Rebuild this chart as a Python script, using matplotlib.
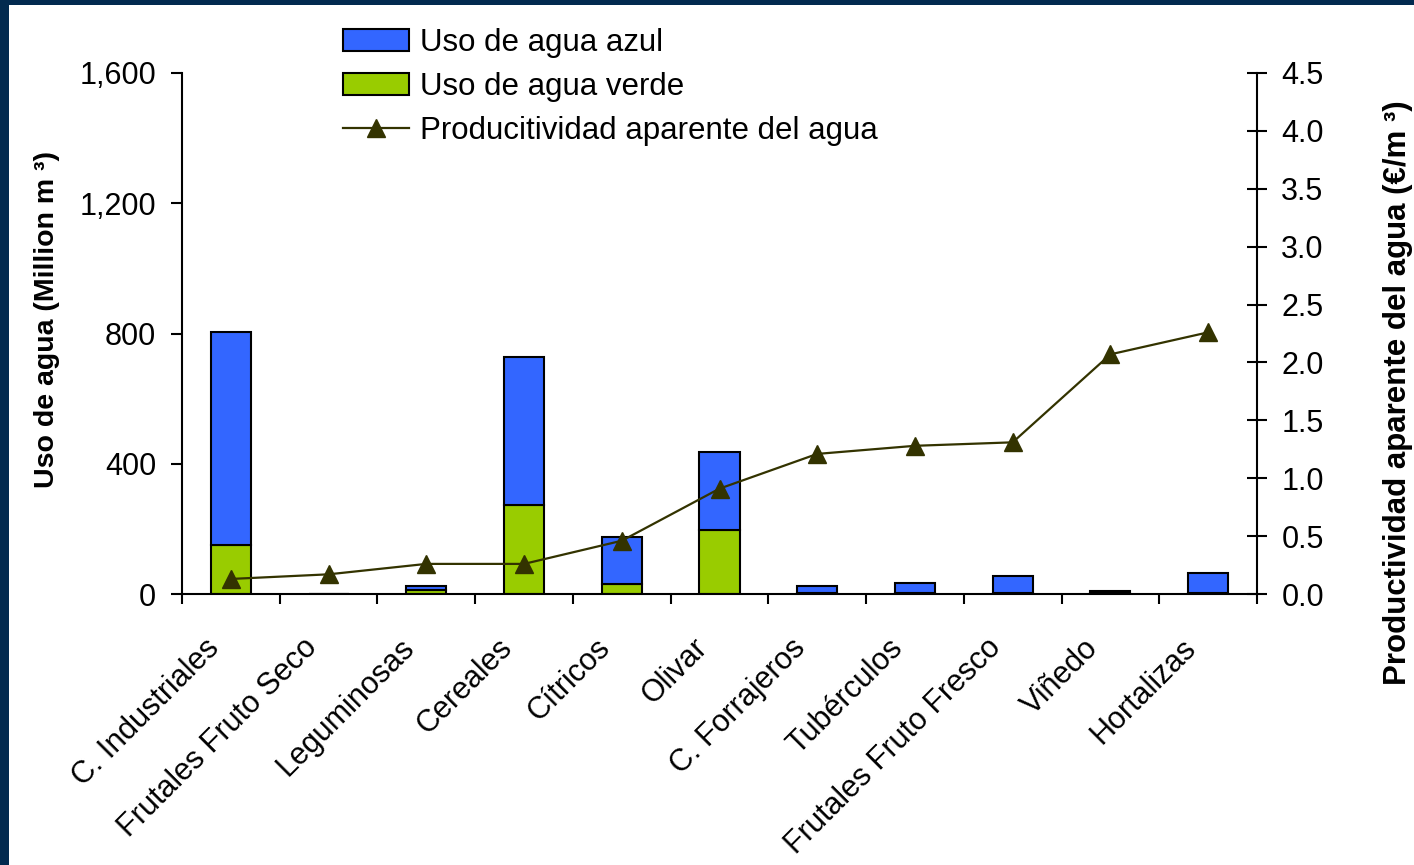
import matplotlib
matplotlib.use("Agg")
import matplotlib.pyplot as plt
from matplotlib.patches import Rectangle
from matplotlib.ticker import FuncFormatter, FixedLocator
from matplotlib.transforms import ScaledTranslation
import numpy as np

plt.rcParams['font.family'] = ['Liberation Sans', 'DejaVu Sans']

cultivos = ["C. Industriales", "Frutales Fruto Seco", "Leguminosas", "Cereales",
            "Cítricos", "Olivar", "C. Forrajeros", "Tubérculos",
            "Frutales Fruto Fresco", "Viñedo", "Hortalizas"]
agua_verde = [152, 0, 12, 272, 31, 197, 4, 2, 4, 3, 4]
agua_azul = [652, 0, 13, 456, 143, 239, 21, 31, 52, 5, 59]
productividad = [0.13, 0.17, 0.26, 0.26, 0.46, 0.91, 1.21, 1.28, 1.31, 2.07, 2.26]

AZUL = "#3366FF"
VERDE = "#99CC00"
LINEA = "#333300"
MARCO = "#022a4f"

fig = plt.figure(figsize=(14.14, 8.65), dpi=100)
fig.patch.set_facecolor("white")

# dark frame on the left and top edges
fig.patches.append(Rectangle((0, 0), 9 / 1414, 1, transform=fig.transFigure,
                             facecolor=MARCO, edgecolor="none", zorder=0))
fig.patches.append(Rectangle((0, 1 - 5 / 865), 1, 5 / 865, transform=fig.transFigure,
                             facecolor=MARCO, edgecolor="none", zorder=0))

ax = fig.add_axes([182 / 1414, 1 - 594 / 865, (1257 - 182) / 1414, (594 - 73) / 865])
x = np.arange(len(cultivos))
w = 0.41
b_verde = ax.bar(x, agua_verde, w, color=VERDE, edgecolor="black", linewidth=1.5,
                 label="Uso de agua verde", zorder=2)
b_azul = ax.bar(x, agua_azul, w, bottom=agua_verde, color=AZUL, edgecolor="black",
                linewidth=1.5, label="Uso de agua azul", zorder=2)

ax.set_xlim(-0.5, len(cultivos) - 0.5)
ax.set_ylim(0, 1600)
ax.set_yticks([0, 400, 800, 1200, 1600])
ax.yaxis.set_major_formatter(FuncFormatter(lambda v, p: f"{int(v):,}"))
ax.tick_params(axis="y", direction="out", length=8, width=1.5, pad=10.5, labelsize=22)

ax.set_xticks(x)
ax.set_xticklabels(cultivos, rotation=45, ha="right", va="top",
                   rotation_mode="anchor", fontsize=22)
ax.xaxis.set_minor_locator(FixedLocator(np.arange(-0.5, len(cultivos), 1.0)))
ax.tick_params(axis="x", which="major", length=0, pad=28)
ax.tick_params(axis="x", which="minor", direction="out", length=7.5, width=1.5)
shift = ScaledTranslation(-27 / 100, 0, fig.dpi_scale_trans)
for lab in ax.get_xticklabels():
    lab.set_transform(lab.get_transform() + shift)

for side in ("top", "right"):
    ax.spines[side].set_visible(False)
for side in ("left", "bottom"):
    ax.spines[side].set_linewidth(1.5)

ax2 = ax.twinx()
linea, = ax2.plot(x, productividad, color=LINEA, linewidth=1.6, marker="^",
                  markersize=13, markerfacecolor=LINEA, markeredgecolor=LINEA,
                  label="Producitividad aparente del agua", zorder=3)
ax2.set_ylim(0, 4.5)
ax2.set_yticks(np.arange(0, 4.51, 0.5))
ax2.yaxis.set_major_formatter(FuncFormatter(lambda v, p: f"{v:.1f}"))
ax2.tick_params(axis="y", direction="inout", length=14, width=1.5, pad=10.5, labelsize=22)
for side in ("top", "left", "bottom"):
    ax2.spines[side].set_visible(False)
ax2.spines["right"].set_linewidth(1.5)

fig.text(47 / 1414, 1 - 320 / 865, "Uso de agua (Million m ³)", rotation=90,
         ha="center", va="center", fontsize=20.5, fontweight="bold")
fig.text(1398 / 1414, 1 - 393 / 865, "Productividad aparente del agua (€/m ³)",
         rotation=90, ha="center", va="center", fontsize=22.5, fontweight="bold")

fig.legend([b_azul, b_verde, linea],
           ["Uso de agua azul", "Uso de agua verde", "Producitividad aparente del agua"],
           loc="upper left", bbox_to_anchor=(343 / 1414, 1 - 28 / 865),
           frameon=False, fontsize=22.5, handlelength=2.1, handleheight=0.7,
           handletextpad=0.35, labelspacing=0.45, borderpad=0, borderaxespad=0)

fig.savefig("out.png", dpi=100, facecolor="white")
